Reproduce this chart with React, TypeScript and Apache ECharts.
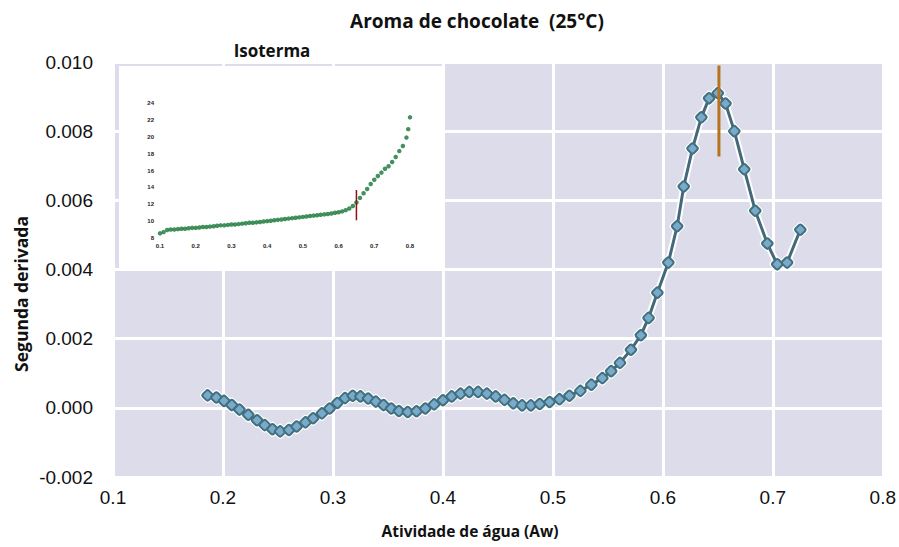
import React, { useEffect, useRef } from "react";
import * as echarts from "echarts";

// Second derivative of the sorption isotherm vs. water activity
const waterActivity = [
  0.186, 0.194, 0.201, 0.208, 0.215, 0.223, 0.231, 0.238, 0.245, 0.252,
  0.26, 0.267, 0.275, 0.282, 0.29, 0.297, 0.304, 0.311, 0.318, 0.325,
  0.332, 0.339, 0.346, 0.353, 0.36, 0.368, 0.376, 0.384, 0.392, 0.4,
  0.408, 0.416, 0.424, 0.432, 0.44, 0.448, 0.456, 0.464, 0.472, 0.48,
  0.488, 0.497, 0.506, 0.515, 0.525, 0.535, 0.545, 0.553, 0.561, 0.571,
  0.58, 0.587, 0.595, 0.605, 0.613, 0.619, 0.627, 0.635, 0.642, 0.65,
  0.657, 0.665, 0.674, 0.684, 0.695, 0.704, 0.713, 0.725,
];
const secondDerivative = [
  0.00036, 0.0003, 0.0002, 0.00008, -0.00005, -0.0002, -0.00036, -0.0005, -0.00062, -0.00068,
  -0.00064, -0.00054, -0.00042, -0.0003, -0.00016, -0.00002, 0.00014, 0.00028, 0.00035, 0.00033,
  0.00027, 0.00018, 0.00008, -0.00002, -0.00009, -0.00012, -0.0001, -0.00002, 0.0001, 0.00022,
  0.00033, 0.00041, 0.00046, 0.00046, 0.00041, 0.00033, 0.00023, 0.00013, 0.00007, 0.00007,
  0.00011, 0.00017, 0.00025, 0.00035, 0.00049, 0.00067, 0.00086, 0.00106, 0.0013, 0.00168,
  0.0021, 0.0026, 0.00333, 0.0042, 0.00525, 0.0064, 0.0075, 0.0084, 0.00895, 0.0091,
  0.0088, 0.008, 0.0069, 0.0057, 0.00475, 0.00415, 0.0042, 0.00515,
];

// Vertical marker at the inflection (peak of the second derivative)
const peakAw = 0.651;
const peakMarkerSpan = [0.00727, 0.0099];

// Inset: moisture sorption isotherm
const isoAw = [
  0.1, 0.11, 0.12, 0.13, 0.14, 0.15, 0.16, 0.17, 0.18, 0.19,
  0.2, 0.21, 0.22, 0.23, 0.24, 0.25, 0.26, 0.27, 0.28, 0.29,
  0.3, 0.31, 0.32, 0.33, 0.34, 0.35, 0.36, 0.37, 0.38, 0.39,
  0.4, 0.41, 0.42, 0.43, 0.44, 0.45, 0.46, 0.47, 0.48, 0.49,
  0.5, 0.51, 0.52, 0.53, 0.54, 0.55, 0.56, 0.57, 0.58, 0.59,
  0.6, 0.61, 0.62, 0.63, 0.64, 0.65, 0.66, 0.67, 0.68, 0.69,
  0.7, 0.71, 0.72, 0.73, 0.74, 0.75, 0.76, 0.77, 0.78, 0.79,
  0.795, 0.8,
];
const isoMoisture = [
  8.55, 8.7, 8.95, 9.0, 9.0, 9.05, 9.1, 9.1, 9.15, 9.2,
  9.2, 9.25, 9.3, 9.3, 9.35, 9.4, 9.45, 9.5, 9.5, 9.55,
  9.6, 9.6, 9.65, 9.7, 9.75, 9.8, 9.8, 9.85, 9.9, 9.95,
  10.0, 10.05, 10.1, 10.15, 10.2, 10.25, 10.3, 10.35, 10.4, 10.45,
  10.5, 10.55, 10.6, 10.65, 10.7, 10.75, 10.8, 10.85, 10.9, 11.0,
  11.05, 11.15, 11.3, 11.5, 11.8, 12.2, 12.75, 13.3, 13.8, 14.4,
  14.9, 15.35, 15.75, 16.2, 16.5, 17.0, 17.6, 18.3, 18.9, 19.9,
  20.9, 22.3,
];
const isoMarkerAw = 0.65;
const isoMarkerSpan = [10.1, 13.7];

const mainTitle = "Aroma de chocolate  (25°C)";
const insetTitle = "Isoterma";
const xName = "Atividade de água (Aw)";
const yName = "Segunda derivada";

const LABEL_FONT = "'Liberation Sans', Arial, sans-serif";
const NAME_FONT = "'Open Sans', Lato, sans-serif";

function label(text: string, x: number, y: number, size: number, rotation = 0) {
  return {
    type: "text",
    z: 20,
    x,
    y,
    rotation,
    style: {
      text,
      fill: "#111111",
      font: `bold ${size}px ${NAME_FONT}`,
      textAlign: "center",
      textVerticalAlign: "middle",
      align: "center",
      verticalAlign: "middle",
    },
  };
}

export default function App() {
  const ref = useRef<HTMLDivElement>(null);

  useEffect(() => {
    if (!ref.current) return;
    const chart = echarts.init(ref.current, undefined, { renderer: "svg" });

    const mainData = waterActivity.map((x, i) => [x, secondDerivative[i]]);
    const isoData = isoAw.map((x, i) => [x, isoMoisture[i]]);

    chart.setOption({
      animation: false,
      backgroundColor: "#ffffff",
      grid: [
        {
          left: 113,
          top: 62,
          width: 770,
          height: 415,
          show: true,
          backgroundColor: "#dcdcea",
          borderWidth: 0,
        },
        { left: 160, top: 103, width: 250, height: 135, show: false },
      ],
      xAxis: [
        {
          gridIndex: 0,
          type: "value",
          min: 0.1,
          max: 0.8,
          interval: 0.1,
          axisLine: { show: false },
          axisTick: { show: false },
          splitLine: { show: true, lineStyle: { color: "#ffffff", width: 3 } },
          axisLabel: {
            formatter: (v: number) => v.toFixed(1),
            fontSize: 19,
            color: "#111111",
            margin: 11,
            fontFamily: LABEL_FONT,
          },
        },
        {
          gridIndex: 1,
          type: "value",
          min: 0.1,
          max: 0.8,
          interval: 0.1,
          z: 12,
          axisLine: { show: false },
          axisTick: { show: false },
          splitLine: { show: false },
          axisLabel: {
            formatter: (v: number) => v.toFixed(1),
            fontSize: 6,
            fontWeight: "bold",
            color: "#222222",
            margin: 5,
            fontFamily: LABEL_FONT,
          },
        },
      ],
      yAxis: [
        {
          gridIndex: 0,
          type: "value",
          min: -0.002,
          max: 0.01,
          interval: 0.002,
          axisLine: { show: false },
          axisTick: { show: false },
          splitLine: { show: true, lineStyle: { color: "#ffffff", width: 3 } },
          axisLabel: {
            formatter: (v: number) => v.toFixed(3),
            fontSize: 19,
            color: "#111111",
            margin: 20,
            fontFamily: LABEL_FONT,
          },
        },
        {
          gridIndex: 1,
          type: "value",
          min: 8,
          max: 24,
          interval: 2,
          z: 12,
          axisLine: { show: false },
          axisTick: { show: false },
          splitLine: { show: false },
          axisLabel: {
            fontSize: 6,
            fontWeight: "bold",
            color: "#222222",
            margin: 6,
            fontFamily: LABEL_FONT,
          },
        },
      ],
      graphic: [
        {
          type: "rect",
          z: 5,
          shape: { x: 119, y: 66, width: 325, height: 203 },
          style: { fill: "#ffffff" },
        },
        label(mainTitle, 477, 21, 19),
        label(insetTitle, 272, 50, 17),
        label(xName, 470, 531, 15.5),
        label(yName, 21, 294, 17.5, Math.PI / 2),
      ],
      series: [
        {
          // white halo behind the curve
          type: "line",
          xAxisIndex: 0,
          yAxisIndex: 0,
          data: mainData,
          silent: true,
          z: 2,
          symbol: "roundRect",
          symbolRotate: 45,
          symbolSize: 12.5,
          itemStyle: { color: "#ffffff", borderWidth: 0 },
          lineStyle: { color: "#ffffff", width: 7 },
        },
        {
          type: "line",
          xAxisIndex: 0,
          yAxisIndex: 0,
          data: mainData,
          z: 3,
          symbol: "roundRect",
          symbolRotate: 45,
          symbolSize: 8.5,
          itemStyle: { color: "#7aaacb", borderColor: "#41707f", borderWidth: 2 },
          lineStyle: { color: "#44697a", width: 3 },
        },
        {
          type: "line",
          xAxisIndex: 0,
          yAxisIndex: 0,
          data: [
            [peakAw, peakMarkerSpan[0]],
            [peakAw, peakMarkerSpan[1]],
          ],
          z: 4,
          symbol: "none",
          lineStyle: { color: "#b8711c", width: 3 },
        },
        {
          type: "scatter",
          xAxisIndex: 1,
          yAxisIndex: 1,
          data: isoData,
          z: 12,
          symbol: "circle",
          symbolSize: 4.5,
          itemStyle: { color: "#147535" },
        },
        {
          type: "line",
          xAxisIndex: 1,
          yAxisIndex: 1,
          data: [
            [isoMarkerAw, isoMarkerSpan[0]],
            [isoMarkerAw, isoMarkerSpan[1]],
          ],
          z: 13,
          symbol: "none",
          lineStyle: { color: "#8b1414", width: 1.5 },
        },
      ],
    });

    return () => chart.dispose();
  }, []);

  return (
    <div
      ref={ref}
      style={{ position: "fixed", left: 0, top: 0, width: 899, height: 547 }}
    />
  );
}
